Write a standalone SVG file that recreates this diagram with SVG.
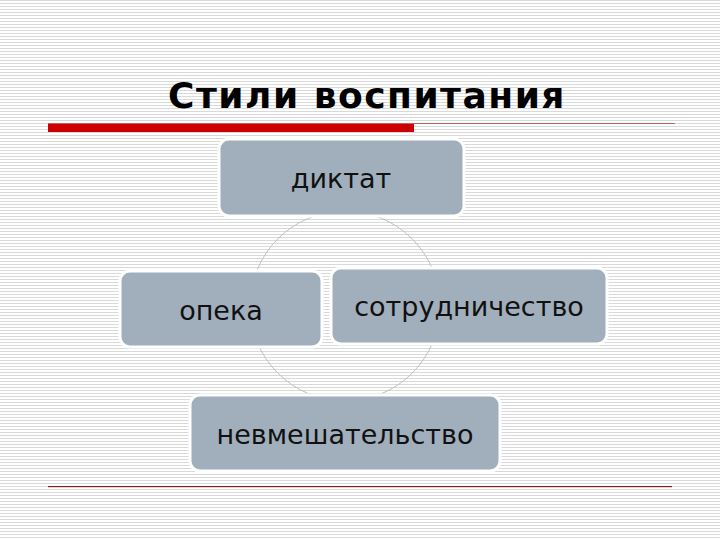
<svg xmlns="http://www.w3.org/2000/svg" width="720" height="540" viewBox="0 0 720 540">
<defs>
<pattern id="st" width="4" height="3" patternUnits="userSpaceOnUse"><rect width="4" height="3" fill="#ffffff"/><rect width="4" height="1" fill="#d9d9d9"/></pattern>
</defs>
<style>
.b{fill:#a1afbd;stroke:#ffffff;stroke-width:3}
.t{font-family:"DejaVu Sans",sans-serif;font-size:27px;fill:#111;text-anchor:middle}
</style>
<rect width="720" height="540" fill="url(#st)"/>
<text x="367" y="108" font-family="DejaVu Sans,sans-serif" font-weight="bold" font-size="36" letter-spacing="1.5" text-anchor="middle" fill="#000">Стили воспитания</text>
<rect x="48" y="123" width="627" height="1" fill="#c06060"/>
<rect x="48" y="124" width="366" height="8" fill="#cc0000"/>
<rect x="48" y="486" width="624" height="1.2" fill="#8b1a1a"/>
<g id="connectors"><circle cx="345" cy="306" r="95" fill="none" stroke="#c0c0c0" stroke-width="1"/></g>
<g id="n1"><rect class="b" x="219" y="139" width="245" height="77" rx="10"/><text class="t" x="341" y="188">диктат</text></g>
<g id="n2"><rect class="b" x="120" y="271" width="202" height="76" rx="10"/><text class="t" x="221" y="320">опека</text></g>
<g id="n3"><rect class="b" x="331" y="268" width="276" height="76" rx="10"/><text class="t" x="469" y="316">сотрудничество</text></g>
<g id="n4"><rect class="b" x="190" y="395" width="310" height="76" rx="10"/><text class="t" x="345" y="444">невмешательство</text></g>
</svg>
